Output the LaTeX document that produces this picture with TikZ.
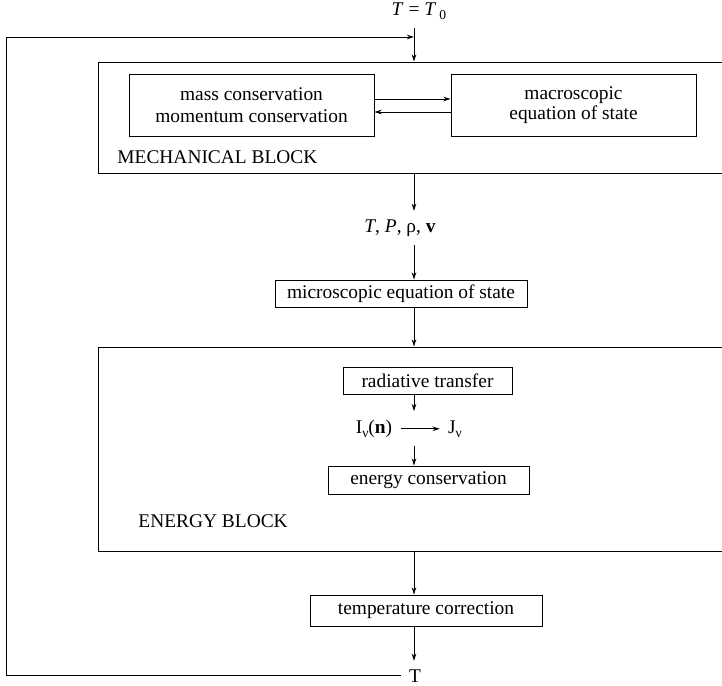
\documentclass[tikz,border=0pt]{standalone}
\usepackage{fontspec}
\setmainfont{Liberation Serif}
\usetikzlibrary{arrows.meta,positioning}
\newcommand{\flowfont}{\fontsize{9.7}{11}\selectfont}
\newcommand{\lowsub}[1]{\raisebox{-0.55ex}{\fontsize{6.8}{7}\selectfont #1}}

\begin{document}
\begin{tikzpicture}[x=0.5pt, y=-0.5pt, line width=0.45pt,
    blk/.style={draw, inner sep=0pt, minimum width=316pt},
    bx/.style={draw, font=\flowfont, align=center, inner sep=0pt},
    lbl/.style={font=\flowfont, inner sep=4pt},
    arr/.style={-{Stealth[length=3.6pt, width=2.3pt]}}]
  \useasboundingbox (0,0) rectangle (722,685);
  \node[blk, minimum height=55.5pt] (mech) at (414,117.5) {};
  \node[blk, minimum height=102pt] (enrg) at (414,449) {};
  \node[lbl, anchor=west] (mechlbl) at (109,157) {MECHANICAL BLOCK};
  \node[lbl, anchor=west] (enrglbl) at (130,521) {ENERGY BLOCK};
  \node[bx, minimum width=122.5pt, minimum height=31pt] (mass) at (251.5,105)
    {mass conservation\\momentum conservation};
  \node[bx, minimum width=122.5pt, minimum height=31pt] (macro) at (573.5,105)
    {macroscopic\\[-1pt]equation of state};
  \node[bx, minimum width=126pt, minimum height=13.5pt] (micro) at (401,293.5)
    {microscopic equation of state};
  \node[bx, minimum width=84.5pt, minimum height=13.5pt] (rad) at (427.5,380.5)
    {radiative transfer};
  \node[bx, minimum width=100.5pt, minimum height=14pt] (econs) at (428.5,480)
    {energy conservation};
  \node[bx, minimum width=116pt, minimum height=15.5pt] (temp) at (426,610.5)
    {temperature correction};
  \node[lbl, anchor=base] (tzero) at (419,15) {\textit{T} = \textit{T}\,\lowsub{0}};
  \node[lbl, anchor=base] (state) at (400,232) {\textit{T}, \textit{P}, ρ, \textbf{v}};
  \node[lbl, anchor=base] (inu) at (374,433) {I\lowsub{ν}(\textbf{n})};
  \node[lbl, anchor=base] (jnu) at (455,433) {J\lowsub{ν}};
  \node[lbl, anchor=base] (tout) at (415,682) {T};
  \coordinate (fbturn) at (6,37);
  \coordinate (fbin) at (414,37);
  \draw[arr] (tzero.south -| mech.north) -- (mech.north);
  \draw[arr] ([yshift=3pt]mass.east) -- ([yshift=3pt]macro.west);
  \draw[arr] ([yshift=-3.5pt]macro.west) -- ([yshift=-3.5pt]mass.east);
  \draw[arr] (mech.south) -- (mech.south |- state.north);
  \draw[arr] (state.south -| mech.south) -- (micro.north -| mech.south);
  \draw[arr] (micro.south -| enrg.north) -- (enrg.north);
  \draw[arr] (rad.south -| enrg.north) -- (inu.north -| enrg.north);
  \draw[arr] (inu.east) -- (inu.east -| jnu.west);
  \draw[arr] (inu.south -| enrg.north) -- (econs.north -| enrg.north);
  \draw[arr] (enrg.south) -- (enrg.south |- temp.north);
  \draw[arr] (temp.south -| enrg.south) -- (tout.north -| enrg.south);
  \draw[arr] (tout.west) -| (fbturn) -- (fbin);
\end{tikzpicture}
\end{document}
